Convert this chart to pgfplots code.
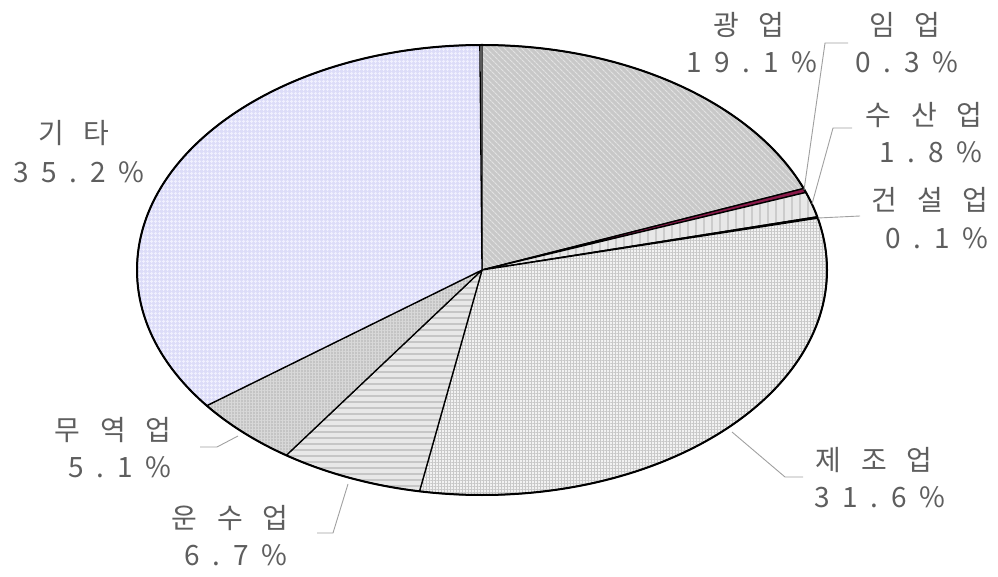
\documentclass[border=0pt]{standalone}
\usepackage{fontspec}
\usepackage{pgfplots}
\pgfplotsset{compat=1.18}
\usetikzlibrary{patterns.meta}
\newfontfamily\krfont[LetterSpace=70]{Noto Sans CJK KR}
\newfontfamily\numfont[LetterSpace=45]{Noto Sans CJK KR}
\definecolor{txt}{HTML}{5E5E5E}
\definecolor{lead}{HTML}{A0A0A0}
\definecolor{gwB}{HTML}{C8C8C8}\definecolor{gwP}{HTML}{E2E2E2}
\definecolor{imB}{HTML}{8A1A4A}
\definecolor{suB}{HTML}{E8E8E8}\definecolor{suP}{HTML}{CCCCCC}
\definecolor{gsB}{HTML}{E0E0E0}
\definecolor{jeB}{HTML}{F2F2F2}\definecolor{jeP}{HTML}{C8C8C8}
\definecolor{unB}{HTML}{E8E8E8}\definecolor{unP}{HTML}{C6C6C6}
\definecolor{muB}{HTML}{C4C4C4}\definecolor{muP}{HTML}{D8D8D8}
\definecolor{gtB}{HTML}{DCDCF8}\definecolor{gtP}{HTML}{F0F0FE}
\tikzset{
  s1/.style={preaction={fill=gwB}, pattern={Lines[angle=-45,distance=4pt,line width=1.2pt]}, pattern color=gwP},
  s2/.style={fill=imB},
  s3/.style={preaction={fill=suB}, pattern={Lines[angle=90,distance=8pt,line width=2pt]}, pattern color=suP},
  s4/.style={fill=gsB},
  s5/.style={preaction={fill=jeB}, pattern={Hatch[distance=3pt,line width=0.6pt]}, pattern color=jeP},
  s6/.style={preaction={fill=unB}, pattern={Lines[angle=0,distance=6pt,line width=2pt]}, pattern color=unP},
  s7/.style={preaction={fill=muB}, pattern={Hatch[distance=3pt,line width=0.8pt]}, pattern color=muP},
  s8/.style={preaction={fill=gtB}, pattern={Hatch[distance=4pt,line width=1pt]}, pattern color=gtP},
  lab/.style={text=txt, font=\fontsize{28}{34}\selectfont, inner sep=0pt, anchor=center},
  klab/.style={lab, xshift=1pt},
  nlab/.style={lab},
  ld/.style={draw=lead, line width=0.9pt}
}
\begin{document}
\begin{tikzpicture}
\begin{axis}[
  scale only axis, width=998pt, height=576pt,
  xmin=0, xmax=998, ymin=0, ymax=576,
  hide axis, clip=false, at={(0,0)}, anchor=south west
]
% shares in percent, clockwise from the top
\gdef\cum{0}
\foreach \v [count=\i] in {19.1,0.3,1.8,0.1,31.6,6.7,5.1,35.2}{
  \pgfmathsetmacro\a{90-3.6*\cum}
  \pgfmathsetmacro\b{90-3.6*(\cum+\v)}
  \edef\temp{\noexpand\draw[s\i, line width=1.3pt, line join=round] (axis cs:482,306) -- ++(\a:345pt and 225pt) arc[start angle=\a, end angle=\b, x radius=345pt, y radius=225pt] -- cycle;}
  \temp
  \pgfmathsetmacro\nc{\cum+\v}
  \global\let\cum\nc
}
\draw[line width=2pt] (axis cs:482,306) ellipse[x radius=345pt, y radius=225pt];
% leader lines
\draw[ld] (axis cs:848,533) -- (axis cs:825,533) -- (axis cs:804,386);
\draw[ld] (axis cs:852,448) -- (axis cs:833,448) -- (axis cs:812,372);
\draw[ld] (axis cs:818,358) -- (axis cs:860,360);
\draw[ld] (axis cs:803,99) -- (axis cs:785,99) -- (axis cs:732,144);
\draw[ld] (axis cs:317,43) -- (axis cs:333,43) -- (axis cs:348,92);
\draw[ld] (axis cs:200,129) -- (axis cs:217,129) -- (axis cs:238,140);
% labels
\node[klab] at (axis cs:748,551) {\krfont 광업};
\node[nlab] at (axis cs:752,514) {\numfont 19.1\%};
\node[klab] at (axis cs:904,551) {\krfont 임업};
\node[nlab] at (axis cs:907,514) {\numfont 0.3\%};
\node[klab] at (axis cs:923,461) {\krfont 수산업};
\node[nlab] at (axis cs:931,424) {\numfont 1.8\%};
\node[klab] at (axis cs:929,376) {\krfont 건설업};
\node[nlab] at (axis cs:937,338) {\numfont 0.1\%};
\node[klab] at (axis cs:873,116) {\krfont 제조업};
\node[nlab] at (axis cs:880,79) {\numfont 31.6\%};
\node[klab] at (axis cs:229,58) {\krfont 운수업};
\node[nlab] at (axis cs:236,21) {\numfont 6.7\%};
\node[klab] at (axis cs:112,146) {\krfont 무역업};
\node[nlab] at (axis cs:120,109) {\numfont 5.1\%};
\node[klab] at (axis cs:73,443) {\krfont 기타};
\node[nlab] at (axis cs:79,404) {\numfont 35.2\%};
\end{axis}
\pgfresetboundingbox
\useasboundingbox (0,0) rectangle (998pt,576pt);
\end{tikzpicture}
\end{document}
